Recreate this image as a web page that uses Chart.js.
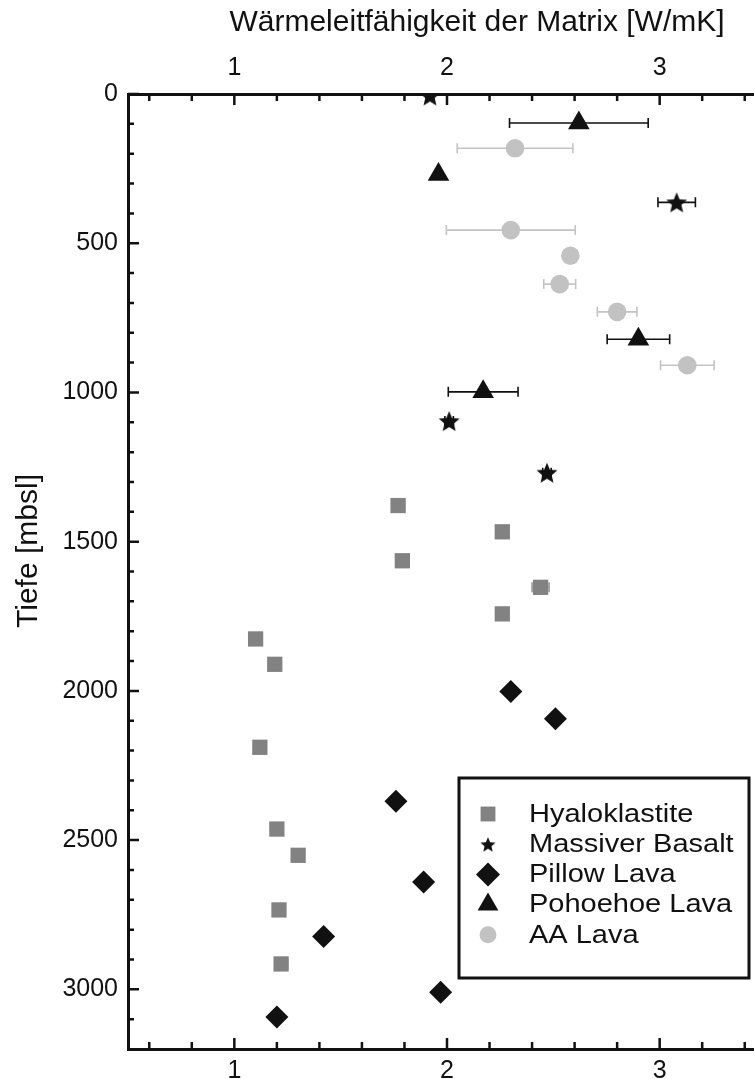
<!DOCTYPE html>
<html>
<head>
<meta charset="utf-8">
<script src="https://cdn.jsdelivr.net/npm/chart.js@4/dist/chart.umd.min.js"></script>
<style>
  html, body { margin: 0; padding: 0; background: #fff; overflow: hidden; }
  #wrap { position: relative; width: 800px; height: 1079px; }
</style>
</head>
<body>
<div id="wrap"><canvas id="chart"></canvas></div>
<script>
    // tick labels
    const xTicks = [1, 2, 3];
    const yTicks = [0, 500, 1000, 1500, 2000, 2500, 3000];

    // Hyaloklastite
    const hyaloK = [1.77, 2.26, 1.79, 2.44, 2.26, 1.10, 1.19, 1.12, 1.20, 1.30, 1.21, 1.22];
    const hyaloDepth = [1379, 1467, 1564, 1653, 1742, 1826, 1911, 2189, 2463, 2551, 2734, 2915];
    const hyaloErr = [0.03, 0, 0, 0.04, 0, 0, 0, 0, 0, 0, 0.02, 0.03];

    // Massiver Basalt
    const basaltK = [1.92, 3.08, 2.01, 2.47];
    const basaltDepth = [5, 363, 1096, 1269];
    const basaltErr = [0, 0.088, 0.02, 0.02];

    // Pillow Lava
    const pillowK = [2.30, 2.51, 1.76, 1.89, 1.42, 1.97, 1.20];
    const pillowDepth = [2002, 2093, 2370, 2640, 2823, 3010, 3093];

    // Pohoehoe Lava
    const pohoK = [2.62, 1.96, 2.90, 2.17];
    const pohoDepth = [97, 270, 822, 998];
    const pohoErr = [0.326, 0, 0.147, 0.164];

    // AA Lava
    const aaK = [2.32, 2.30, 2.58, 2.53, 2.80, 3.13];
    const aaDepth = [182, 456, 542, 637, 730, 909];
    const aaErr = [0.272, 0.303, 0, 0.075, 0.093, 0.126];

    const FONT = "'Liberation Sans', Arial, sans-serif";
    const INK = "#111111";

    function points(xs, ys) {
        return xs.map((x, i) => ({ x, y: ys[i] }));
    }

    function starImage(R, color) {
        const c = document.createElement("canvas");
        const s = Math.ceil(R * 2 + 2);
        c.width = s;
        c.height = s;
        const g = c.getContext("2d");
        g.fillStyle = color;
        g.beginPath();
        for (let i = 0; i < 10; i++) {
            const r = i % 2 ? R * 0.45 : R;
            const a = -Math.PI / 2 + i * Math.PI / 5;
            g.lineTo(s / 2 + r * Math.cos(a), s / 2 + 1 + r * Math.sin(a));
        }
        g.closePath();
        g.fill();
        return c;
    }

    function drawMarker(ctx, style, x, y, r, color) {
        if (style instanceof HTMLCanvasElement) {
            ctx.drawImage(style, x - style.width / 2, y - style.height / 2);
            return;
        }
        ctx.fillStyle = color;
        ctx.beginPath();
        if (style === "rect") {
            const h = r * Math.SQRT1_2;
            ctx.rect(x - h, y - h, 2 * h, 2 * h);
        } else if (style === "rectRot") {
            ctx.moveTo(x - r, y);
            ctx.lineTo(x, y - r);
            ctx.lineTo(x + r, y);
            ctx.lineTo(x, y + r);
            ctx.closePath();
        } else if (style === "triangle") {
            ctx.moveTo(x, y - r);
            ctx.lineTo(x + r * 0.866, y + r / 2);
            ctx.lineTo(x - r * 0.866, y + r / 2);
            ctx.closePath();
        } else {
            ctx.arc(x, y, r, 0, Math.PI * 2);
        }
        ctx.fill();
    }

    const errorBars = {
        id: "errorBars",
        beforeDatasetsDraw(chart) {
            const ctx = chart.ctx;
            const xs = chart.scales.x;
            const ys = chart.scales.y;
            chart.data.datasets.forEach(ds => {
                if (!ds.xErr) return;
                ctx.save();
                ctx.strokeStyle = ds.errColor;
                ctx.lineWidth = 1.6;
                ds.data.forEach((p, i) => {
                    const e = ds.xErr[i];
                    if (!e) return;
                    const x1 = xs.getPixelForValue(p.x - e);
                    const x2 = xs.getPixelForValue(p.x + e);
                    const y = ys.getPixelForValue(p.y);
                    ctx.beginPath();
                    ctx.moveTo(x1, y); ctx.lineTo(x2, y);
                    ctx.moveTo(x1, y - 5); ctx.lineTo(x1, y + 5);
                    ctx.moveTo(x2, y - 5); ctx.lineTo(x2, y + 5);
                    ctx.stroke();
                });
                ctx.restore();
            });
        }
    };

    // inward ticks, titles and the boxed legend
    const frame = {
        id: "frame",
        afterDraw(chart) {
            const ctx = chart.ctx;
            const area = chart.chartArea;
            const xs = chart.scales.x;
            const ys = chart.scales.y;
            ctx.save();
            ctx.strokeStyle = INK;
            ctx.lineWidth = 2.5;
            ctx.beginPath();
            for (let v = 6; v <= 34; v += 2) {
                const len = v % 10 === 0 ? 11 : 7;
                const px = xs.getPixelForValue(v / 10);
                ctx.moveTo(px, area.top); ctx.lineTo(px, area.top + len);
                ctx.moveTo(px, area.bottom); ctx.lineTo(px, area.bottom - len);
            }
            for (let v = 0; v <= 3100; v += 100) {
                const len = v % 500 === 0 ? 11 : 6;
                const py = ys.getPixelForValue(v);
                ctx.moveTo(area.left, py); ctx.lineTo(area.left + len, py);
            }
            ctx.stroke();

            ctx.fillStyle = INK;
            ctx.font = "30px " + FONT;
            ctx.textAlign = "center";
            ctx.textBaseline = "middle";
            ctx.fillText("Wärmeleitfähigkeit der Matrix [W/mK]", 477, 23);
            ctx.save();
            ctx.translate(29, 551);
            ctx.rotate(-Math.PI / 2);
            ctx.fillText("Tiefe [mbsl]", 0, 0);
            ctx.restore();

            // legend box
            ctx.lineWidth = 3;
            ctx.strokeStyle = INK;
            ctx.fillStyle = "#fff";
            ctx.fillRect(459, 778, 290, 200);
            ctx.strokeRect(459, 778, 290, 200);
            ctx.font = "25px " + FONT;
            ctx.textAlign = "left";
            chart.data.datasets.forEach((ds, i) => {
                const y = 814 + i * 30.2;
                drawMarker(ctx, ds.legendStyle || ds.pointStyle, 488, y, ds.legendRadius, ds.backgroundColor);
                ctx.fillStyle = INK;
                ctx.save();
                ctx.translate(529, y + 1);
                ctx.scale(1.16, 1);
                ctx.fillText(ds.label, 0, 0);
                ctx.restore();
            });
            ctx.restore();
        }
    };

    const tickFont = { family: FONT, size: 25 };

    new Chart(document.getElementById("chart").getContext("2d"), {
        type: "scatter",
        data: {
            datasets: [{
                label: "Hyaloklastite",
                data: points(hyaloK, hyaloDepth),
                xErr: hyaloErr,
                errColor: "#9a9a9a",
                pointStyle: "rect",
                pointRadius: 10.8,
                legendRadius: 10.5,
                backgroundColor: "#828282"
            }, {
                label: "Massiver Basalt",
                data: points(basaltK, basaltDepth),
                xErr: basaltErr,
                errColor: INK,
                pointStyle: starImage(11, INK),
                legendStyle: starImage(8, INK),
                pointRadius: 11,
                legendRadius: 8,
                backgroundColor: INK
            }, {
                label: "Pillow Lava",
                data: points(pillowK, pillowDepth),
                pointStyle: "rectRot",
                pointRadius: 11.5,
                legendRadius: 12,
                backgroundColor: INK
            }, {
                label: "Pohoehoe Lava",
                data: points(pohoK, pohoDepth),
                xErr: pohoErr,
                errColor: INK,
                pointStyle: "triangle",
                pointRadius: 12.5,
                legendRadius: 12,
                backgroundColor: INK
            }, {
                label: "AA Lava",
                data: points(aaK, aaDepth),
                xErr: aaErr,
                errColor: "#c4c4c4",
                pointStyle: "circle",
                pointRadius: 9.3,
                legendRadius: 8.5,
                backgroundColor: "#c2c2c2"
            }]
        },
        options: {
            responsive: true,
            maintainAspectRatio: false,
            animation: false,
            events: [],
            layout: { padding: { right: 34 } },
            elements: { point: { borderWidth: 0, hoverRadius: 0 } },
            plugins: { legend: { display: false }, tooltip: { enabled: false } },
            scales: {
                x: {
                    type: "linear",
                    position: "bottom",
                    min: 0.5,
                    max: 3.5,
                    grid: { display: false, drawTicks: false },
                    border: { color: INK, width: 3 },
                    ticks: { font: tickFont, color: INK, padding: 7, autoSkip: false, callback: v => String(v) },
                    afterBuildTicks: s => { s.ticks = xTicks.map(v => ({ value: v })); },
                    afterFit: s => { s.height = 30; }
                },
                x2: {
                    type: "linear",
                    position: "top",
                    min: 0.5,
                    max: 3.5,
                    grid: { display: false, drawTicks: false },
                    border: { color: INK, width: 3 },
                    ticks: { font: tickFont, color: INK, padding: 11, autoSkip: false, callback: v => String(v) },
                    afterBuildTicks: s => { s.ticks = xTicks.map(v => ({ value: v })); },
                    afterFit: s => { s.height = 94; }
                },
                y: {
                    type: "linear",
                    position: "left",
                    reverse: true,
                    min: 0,
                    max: 3200,
                    grid: { display: false, drawTicks: false },
                    border: { color: INK, width: 3 },
                    ticks: { font: tickFont, color: INK, padding: 10, autoSkip: false, callback: v => String(v) },
                    afterBuildTicks: s => { s.ticks = yTicks.map(v => ({ value: v })); },
                    afterFit: s => { s.width = 128; }
                }
            }
        },
        plugins: [errorBars, frame]
    });
</script>
</body>
</html>
